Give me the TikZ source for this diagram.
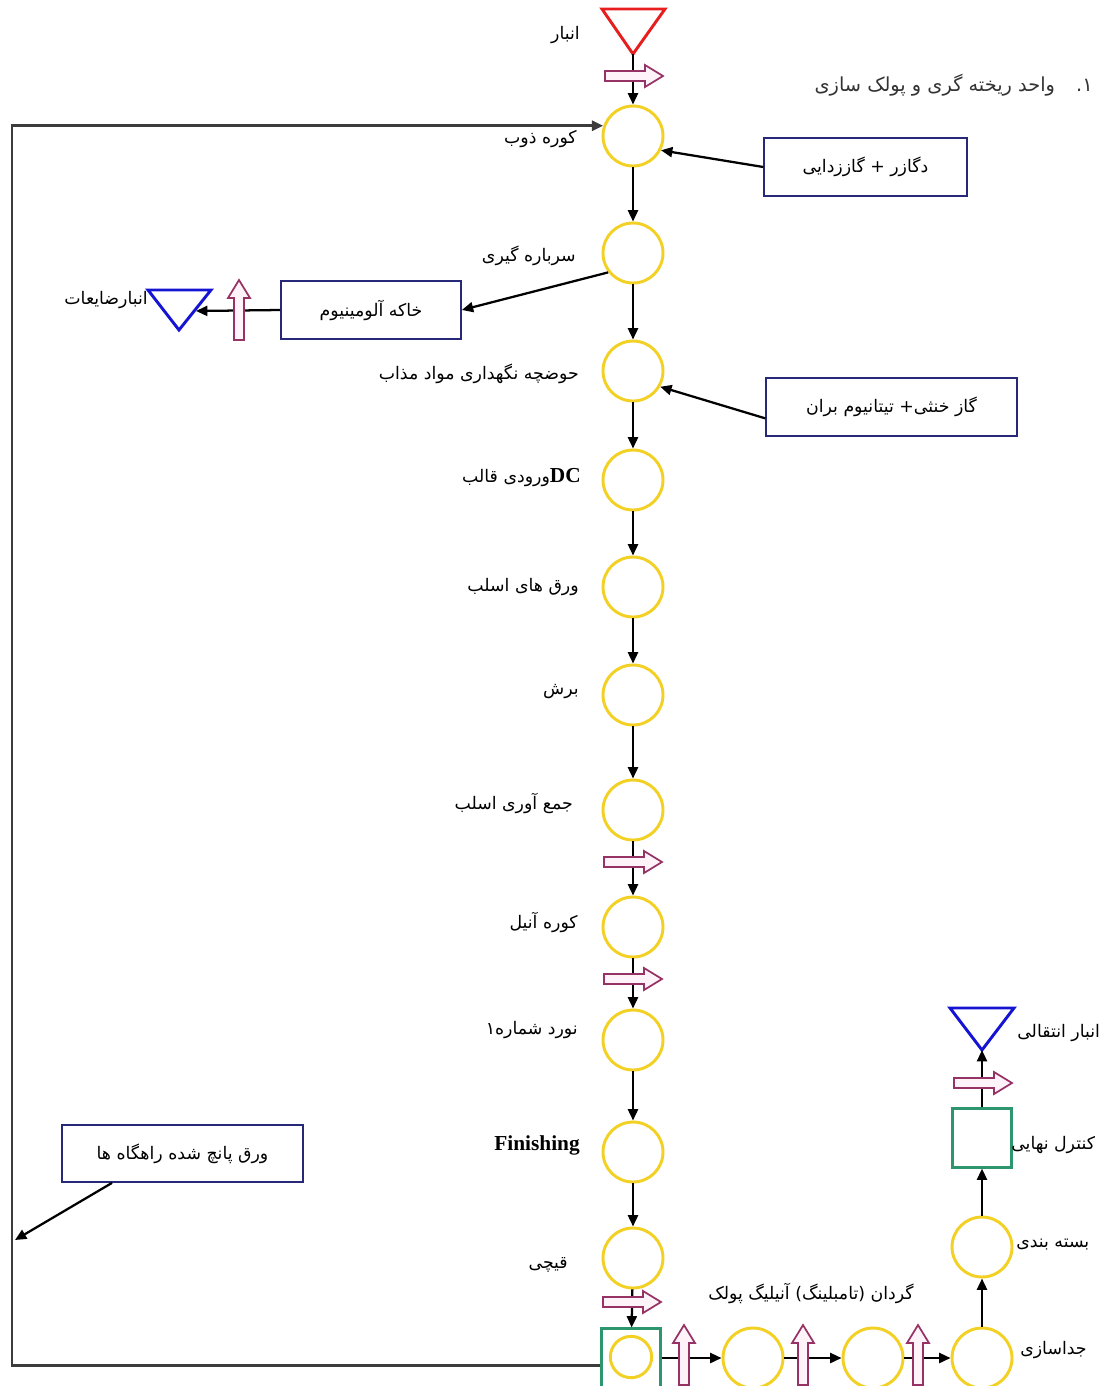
\documentclass[tikz,border=0pt]{standalone}
\usepackage{fontspec}
\usetikzlibrary{arrows.meta,calc}
\TeXXeTstate=1
\newfontfamily\fa[Script=Arabic]{DejaVu Sans}
\newfontfamily\tnr{Liberation Serif}
\definecolor{procyellow}{RGB}{242,208,36}
\definecolor{inspgreen}{RGB}{46,150,110}
\definecolor{boxblue}{RGB}{40,40,120}
\definecolor{storeblue}{RGB}{20,20,210}
\definecolor{storered}{RGB}{230,30,30}
\definecolor{pinkline}{RGB}{150,50,100}
\definecolor{pinkfill}{RGB}{253,243,249}
\definecolor{fbgray}{RGB}{60,60,60}
\tikzset{
  pinkarrow/.style={draw=pinkline,fill=pinkfill,line width=1.3pt,line join=miter},
  pinkR/.pic={\draw[pinkarrow] (-29,-5) -- (11,-5) -- (11,-11) -- (29,0) -- (11,11) -- (11,5) -- (-29,5) -- cycle;},
  pinkU/.pic={\draw[pinkarrow] (-5,30) -- (-5,-12) -- (-11,-12) -- (0,-30) -- (11,-12) -- (5,-12) -- (5,30) -- cycle;}
}
\begin{document}
\begin{tikzpicture}[x=0.75pt,y=-0.75pt,
  proc/.style={circle,draw=procyellow,line width=2.2pt,minimum size=45pt,inner sep=0pt},
  smallproc/.style={circle,draw=procyellow,line width=2.2pt,minimum size=31pt,inner sep=0pt},
  insp/.style={rectangle,draw=inspgreen,line width=1.8pt,minimum size=44pt,inner sep=0pt},
  infobox/.style={rectangle,draw=boxblue,line width=1.3pt,inner sep=0pt,minimum height=43.5pt,font=\fa\fontsize{13}{15}\selectfont},
  lbl/.style={font=\fa\fontsize{13}{15}\selectfont,inner sep=0pt,text=black},
  flow/.style={draw=black,line width=1.7pt,-{Triangle[length=8.5pt,width=7.5pt]}},
  fb/.style={draw=fbgray,line width=2.2pt,line join=miter,-{Triangle[length=8.5pt,width=7.5pt]}},
  storeR/.style={draw=storered,line width=2.2pt,line join=miter},
  storeB/.style={draw=storeblue,line width=2.2pt,line join=miter}
]
\useasboundingbox (0,0) rectangle (1099,1386);

% title
\node[lbl,anchor=east,text=black!80,font=\fa\fontsize{14.5}{17}\selectfont] (title) at (1093,85) {\beginR ۱.\hspace{1.1em}واحد ریخته گری و پولک سازی\endR};

% top store
\draw[storeR] (602,9) -- (665,9) -- (633,54) -- cycle;
\coordinate (store1) at (633,54);
\node[lbl,anchor=east] (lstore1) at (580,35) {\beginR انبار\endR};

% main column
\node[proc] (c1) at (633,136) {};
\node[proc] (c2) at (633,253) {};
\node[proc] (c3) at (633,371) {};
\node[proc] (c4) at (633,480) {};
\node[proc] (c5) at (633,587) {};
\node[proc] (c6) at (633,695) {};
\node[proc] (c7) at (633,810) {};
\node[proc] (c8) at (633,927) {};
\node[proc] (c9) at (633,1040) {};
\node[proc] (c10) at (633,1152) {};
\node[proc] (c11) at (633,1258) {};
\node[insp] (sq1) at (631,1358) {};
\node[smallproc] (c12) at (631,1357) {};

% bottom row
\node[proc] (c13) at (753,1358) {};
\node[proc] (c14) at (873,1358) {};
\node[proc] (c15) at (982,1358) {};
\node[proc] (c16) at (982,1247) {};
\node[insp] (sq2) at (982,1138) {};
\draw[storeB] (950,1008) -- (1014,1008) -- (982,1050) -- cycle;
\coordinate (store3) at (982,1050);

% labels
\node[lbl,anchor=east] (l1) at (577,139) {\beginR کوره ذوب\endR};
\node[lbl,anchor=east] (l2) at (576,256) {\beginR سرباره گیری\endR};
\node[lbl,anchor=east] (l3) at (579,374) {\beginR حوضچه نگهداری مواد مذاب\endR};
\node[lbl,anchor=east] (l4) at (581,478) {\beginR{\tnr\bfseries\fontsize{16}{18}\selectfont DC}ورودی قالب\endR};
\node[lbl,anchor=east] (l5) at (579,587) {\beginR ورق های اسلب\endR};
\node[lbl,anchor=east] (l6) at (579,692) {\beginR برش\endR};
\node[lbl,anchor=east] (l7) at (573,803) {\beginR جمع آوری اسلب\endR};
\node[lbl,anchor=east] (l8) at (578,922) {\beginR کوره آنیل\endR};
\node[lbl,anchor=east] (l9) at (578,1030) {\beginR نورد شماره۱\endR};
\node[lbl,anchor=east,font=\tnr\bfseries\fontsize{16}{18}\selectfont] (l10) at (580,1145) {Finishing};
\node[lbl,anchor=east] (l11) at (568,1265) {\beginR قیچی\endR};
\node[lbl] (l13) at (811,1293) {\beginR گردان (تامبلینگ) آنیلیگ پولک\endR};
\node[lbl,anchor=west] (l15) at (1020,1350) {\beginR جداسازی\endR};
\node[lbl,anchor=west] (l16) at (1016,1245) {\beginR بسته بندی\endR};
\node[lbl,anchor=west] (lsq2) at (1011,1145) {\beginR کنترل نهایی\endR};
\node[lbl,anchor=west] (lstore3) at (1017,1033) {\beginR انبار انتقالی\endR};

% info boxes
\node[infobox,minimum width=152pt] (b1) at (865.5,167) {\beginR دگازر + گاززدایی\endR};
\node[infobox,minimum width=135pt] (b2) at (371,310) {\beginR خاکه آلومینیوم\endR};
\node[infobox,minimum width=188pt] (b3) at (891.5,407) {\beginR گاز خنثی+ تیتانیوم بران\endR};
\node[infobox,minimum width=181pt,minimum height=42.75pt] (b4) at (182.5,1153.5) {\beginR ورق پانچ شده راهگاه ها\endR};

% waste store
\draw[storeB] (148,290) -- (211,290) -- (179,330) -- cycle;
\coordinate (store2) at (196,311);
\node[lbl,anchor=east] (lstore2) at (148,300) {\beginR انبارضایعات\endR};

% flow connectors
\draw[flow] (store1) -- (c1);
\draw[flow] (c1) -- (c2);
\draw[flow] (c2) -- (c3);
\draw[flow] (c3) -- (c4);
\draw[flow] (c4) -- (c5);
\draw[flow] (c5) -- (c6);
\draw[flow] (c6) -- (c7);
\draw[flow] (c7) -- (c8);
\draw[flow] (c8) -- (c9);
\draw[flow] (c9) -- (c10);
\draw[flow] (c10) -- (c11);
\draw[flow] (c11) -- (sq1);
\draw[flow] (sq1) -- (c13);
\draw[flow] (c13) -- (c14);
\draw[flow] (c14) -- (c15);
\draw[flow] (c15) -- (c16);
\draw[flow] (c16) -- (sq2);
\draw[flow] (sq2) -- (store3);

\draw[flow] (b1.west) -- (c1.-27);
\draw[flow] (c2.218) -- (b2.east);
\draw[flow] (b2.west) -- (store2);
\draw[flow] ($(b3.north west)!0.69!(b3.south west)$) -- (c3.-30);

% feedback loop
\coordinate (fbin) at (15,1240);
\coordinate (fbx) at (12,0);
\coordinate (fbstart) at ($(sq1.north west)!0.63!(sq1.south west)$);
\draw[fb] (fbstart) -| (fbx |- c1.161) -- (c1.161);
\draw[flow] ($(b4.south west)!0.21!(b4.south east)$) -- (fbin);

% transport block arrows
\pic at (634,76) {pinkR};
\pic at (633,862) {pinkR};
\pic at (633,979) {pinkR};
\pic at (632,1302) {pinkR};
\pic at (983,1083) {pinkR};
\pic at (239,310) {pinkU};
\pic at (684,1355) {pinkU};
\pic at (803,1355) {pinkU};
\pic at (918,1355) {pinkU};
\end{tikzpicture}
\end{document}
